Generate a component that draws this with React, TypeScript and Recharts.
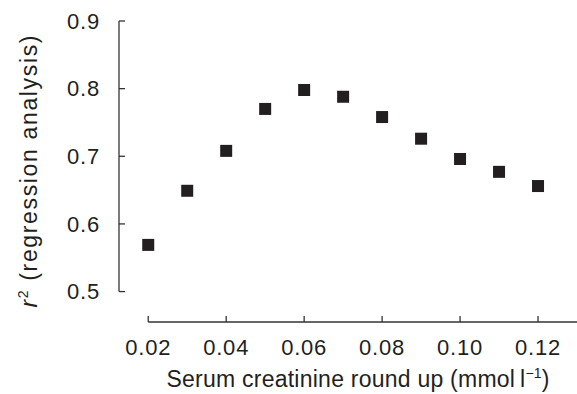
import React from 'react';
import { ScatterChart, Scatter, XAxis, YAxis, ReferenceLine } from 'recharts';

const creatinineCutoffs = [0.02, 0.03, 0.04, 0.05, 0.06, 0.07, 0.08, 0.09, 0.1, 0.11, 0.12];
const r2Values = [0.569, 0.649, 0.708, 0.77, 0.798, 0.788, 0.758, 0.726, 0.696, 0.677, 0.656];
const xTicks = [0.02, 0.04, 0.06, 0.08, 0.1, 0.12];
const yTicks = [0.5, 0.6, 0.7, 0.8, 0.9];

const X_DOMAIN: [number, number] = [0.0125, 0.13];
const Y_DOMAIN: [number, number] = [0.455, 0.9];

const data = creatinineCutoffs.map((x, i) => ({ x, y: r2Values[i] }));

const INK = '#231f20';
const AXIS = '#333333';
const FONT = '"Liberation Sans", Arial, Helvetica, sans-serif';

const Square = (props: any) => {
  const { cx, cy } = props;
  if (cx == null || cy == null) return null;
  return <rect x={cx - 6} y={cy - 6} width={12} height={12} fill={INK} />;
};

const XLabel = (props: any) => {
  const vb = props.viewBox || {};
  const cx = vb.x + vb.width / 2 + 10;
  const y = vb.y + 65;
  return (
    <text
      x={cx}
      y={y}
      textAnchor="middle"
      fill={INK}
      fontSize={23}
      fontFamily={FONT}
      textLength={383}
      lengthAdjust="spacing"
    >
      <tspan>Serum creatinine round up (mmol{'\u2009'}l</tspan>
      <tspan dy={-9} fontSize={14}>−1</tspan>
      <tspan dy={9}>)</tspan>
    </text>
  );
};

const YLabel = (props: any) => {
  const vb = props.viewBox || {};
  const cx = 37;
  const cy = vb.y + vb.height / 2;
  return (
    <text
      x={cx}
      y={cy}
      transform={`rotate(-90, ${cx}, ${cy})`}
      textAnchor="middle"
      fill={INK}
      fontSize={23}
      fontFamily={FONT}
      textLength={272}
      lengthAdjust="spacing"
    >
      <tspan fontStyle="italic">r</tspan>
      <tspan dy={-9} fontSize={14}>2</tspan>
      <tspan dy={9}> (regression analysis)</tspan>
    </text>
  );
};

export default function App() {
  return (
    <div style={{ position: 'absolute', left: 0, top: 0, background: '#fff' }}>
      <ScatterChart width={577} height={394} margin={{ top: 21, right: 0, bottom: 0, left: 0 }}>
        <XAxis
          type="number"
          dataKey="x"
          domain={X_DOMAIN}
          ticks={xTicks}
          tickFormatter={(v: number) => v.toFixed(2)}
          height={72}
          axisLine={false}
          tickSize={-6}
          tickMargin={23}
          tickLine={{ stroke: AXIS, strokeWidth: 1.3 }}
          tick={{ fill: INK, fontSize: 22, fontFamily: FONT, letterSpacing: 0.8 }}
          label={<XLabel />}
          interval={0}
        />
        <YAxis
          type="number"
          dataKey="y"
          domain={Y_DOMAIN}
          ticks={yTicks}
          tickFormatter={(v: number) => v.toFixed(1)}
          width={119}
          axisLine={false}
          tickSize={-6}
          tickMargin={25}
          tickLine={{ stroke: AXIS, strokeWidth: 1.3 }}
          tick={{ fill: INK, fontSize: 22, fontFamily: FONT, letterSpacing: 0.8 }}
          label={<YLabel />}
          interval={0}
        />
        <ReferenceLine
          segment={[{ x: X_DOMAIN[0], y: yTicks[0] }, { x: X_DOMAIN[0], y: yTicks[yTicks.length - 1] }]}
          stroke={AXIS}
          strokeWidth={1.3}
          ifOverflow="visible"
        />
        <ReferenceLine
          segment={[{ x: xTicks[0], y: Y_DOMAIN[0] }, { x: X_DOMAIN[1], y: Y_DOMAIN[0] }]}
          stroke={AXIS}
          strokeWidth={1.3}
          ifOverflow="visible"
        />
        <Scatter data={data} shape={<Square />} isAnimationActive={false} />
      </ScatterChart>
    </div>
  );
}
